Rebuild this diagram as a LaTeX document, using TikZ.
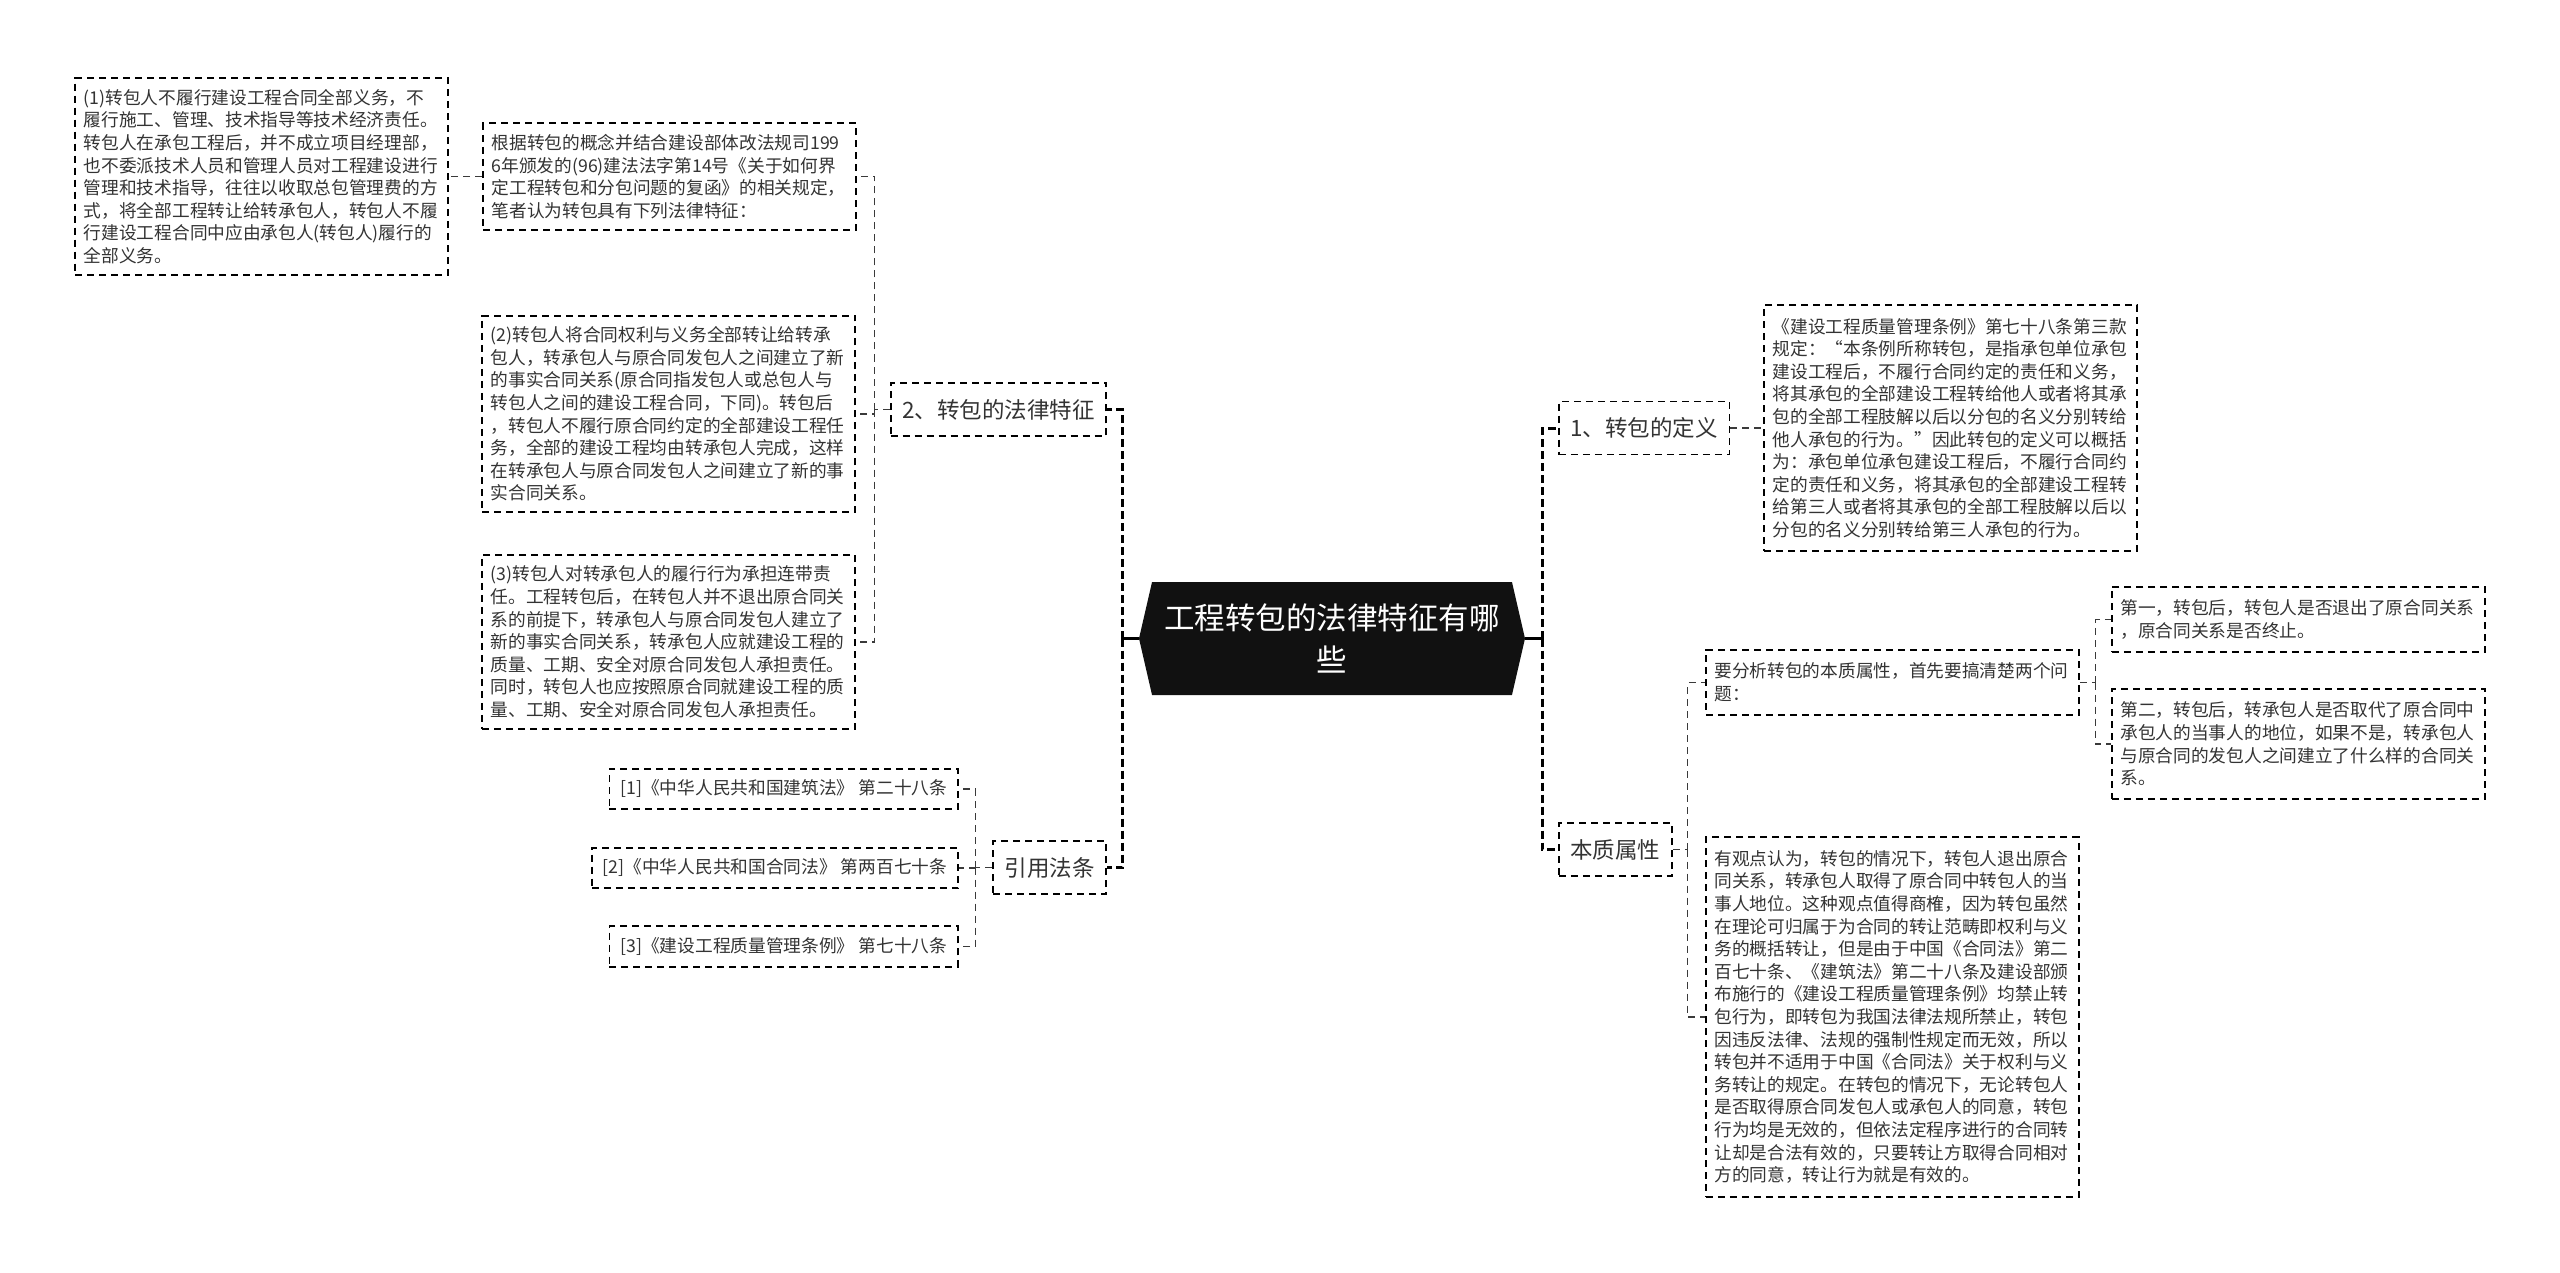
\documentclass[tikz,border=0pt]{standalone}
\usepackage{fontspec}
\usepackage{xcolor}
\usetikzlibrary{positioning, shapes.symbols}
\newfontfamily\cjk{Noto Sans CJK SC}
\definecolor{inkgray}{HTML}{333333}
\definecolor{rootfill}{HTML}{111111}
\definecolor{linkgray}{HTML}{3a3a3a}

\begin{document}
\begin{tikzpicture}[
  x=0.5pt, y=-0.5pt,
  rootbox/.style={shape=signal, signal to=west and east, signal pointer angle=154,
             fill=rootfill, text=white, minimum width=193pt, minimum height=56.5pt,
             inner xsep=2pt, align=center,
             font=\cjk\fontsize{15.25pt}{21pt}\selectfont},
  topic/.style={rectangle, draw=black, line width=0.9pt, dash pattern=on 3.5pt off 2.5pt,
             text=inkgray, minimum height=26.5pt, inner xsep=5.75pt,
             font=\cjk\fontsize{11.25pt}{13pt}\selectfont},
  leafl/.style={rectangle, draw=black, line width=0.9pt, dash pattern=on 3.5pt off 2.5pt,
             text=inkgray, text width=178pt, align=left, inner xsep=4.25pt, inner ysep=5.5pt,
             font=\cjk\fontsize{8.85pt}{11.3pt}\selectfont},
  leafr/.style={leafl, inner ysep=6.5pt},
  cite/.style={rectangle, draw=black, line width=0.9pt, dash pattern=on 3.5pt off 2.5pt,
             text=inkgray, inner xsep=5.5pt, inner ysep=5.6pt,
             font=\cjk\fontsize{8.85pt}{10.5pt}\selectfont},
  stub/.style={draw=black, line width=1.5pt},
  trunk/.style={draw=black, line width=1.5pt, dash pattern=on 4pt off 2pt},
  link/.style={draw=linkgray, line width=0.65pt, dash pattern=on 3.5pt off 2.5pt}
]
\useasboundingbox (0,0) rectangle (2560,1273);

% Centre
\node[rootbox] (root) at (1332,638.5) {工程转包的法律特征有哪\\些};

% Main branches
\node[topic, anchor=east] (feat) at (1107,409.5) {2、转包的法律特征};
\node[topic, anchor=east] (law)  at (1107,867.5) {引用法条};
\node[topic, anchor=west] (defn) at (1558,428)   {1、转包的定义};
\node[topic, anchor=west] (ess)  at (1558,849.5) {本质属性};

% Legal features
\node[leafl, anchor=east] (intro) at (857,176.5) {根据转包的概念并结合建设部体改法规司199\\6年颁发的(96)建法法字第14号《关于如何界\\定工程转包和分包问题的复函》的相关规定，\\笔者认为转包具有下列法律特征：};
\node[leafl, left=16.5pt of intro] (feat1) {(1)转包人不履行建设工程合同全部义务，不\\履行施工、管理、技术指导等技术经济责任。\\转包人在承包工程后，并不成立项目经理部，\\也不委派技术人员和管理人员对工程建设进行\\管理和技术指导，往往以收取总包管理费的方\\式，将全部工程转让给转承包人，转包人不履\\行建设工程合同中应由承包人(转包人)履行的\\全部义务。};
\node[leafl, anchor=east] (feat2) at (856,414) {(2)转包人将合同权利与义务全部转让给转承\\包人，转承包人与原合同发包人之间建立了新\\的事实合同关系(原合同指发包人或总包人与\\转包人之间的建设工程合同，下同)。转包后\\，转包人不履行原合同约定的全部建设工程任\\务，全部的建设工程均由转承包人完成，这样\\在转承包人与原合同发包人之间建立了新的事\\实合同关系。};
\node[leafl, anchor=east] (feat3) at (856,642) {(3)转包人对转承包人的履行行为承担连带责\\任。工程转包后，在转包人并不退出原合同关\\系的前提下，转承包人与原合同发包人建立了\\新的事实合同关系，转承包人应就建设工程的\\质量、工期、安全对原合同发包人承担责任。\\同时，转包人也应按照原合同就建设工程的质\\量、工期、安全对原合同发包人承担责任。};

% Citations
\node[cite, anchor=east] (cite1) at (959,789)   {[1]《中华人民共和国建筑法》 第二十八条};
\node[cite, anchor=east] (cite2) at (959,868)   {[2]《中华人民共和国合同法》 第两百七十条};
\node[cite, anchor=east] (cite3) at (959,946.5) {[3]《建设工程质量管理条例》 第七十八条};

% Definition
\node[leafr, right=16.5pt of defn] (defbox) {《建设工程质量管理条例》第七十八条第三款\\规定：“本条例所称转包，是指承包单位承包\\建设工程后，不履行合同约定的责任和义务，\\将其承包的全部建设工程转给他人或者将其承\\包的全部工程肢解以后以分包的名义分别转给\\他人承包的行为。”因此转包的定义可以概括\\为：承包单位承包建设工程后，不履行合同约\\定的责任和义务，将其承包的全部建设工程转\\给第三人或者将其承包的全部工程肢解以后以\\分包的名义分别转给第三人承包的行为。};

% Essence
\node[leafr, anchor=west] (ask) at (1705,682.5) {要分析转包的本质属性，首先要搞清楚两个问\\题：};
\node[leafr, anchor=west] (q1)  at (2111,619.5) {第一，转包后，转包人是否退出了原合同关系\\，原合同关系是否终止。};
\node[leafr, anchor=west] (q2)  at (2111,744)   {第二，转包后，转承包人是否取代了原合同中\\承包人的当事人的地位，如果不是，转承包人\\与原合同的发包人之间建立了什么样的合同关\\系。};
\node[leafr, anchor=west] (view) at (1705,1017) {有观点认为，转包的情况下，转包人退出原合\\同关系，转承包人取得了原合同中转包人的当\\事人地位。这种观点值得商榷，因为转包虽然\\在理论可归属于为合同的转让范畴即权利与义\\务的概括转让，但是由于中国《合同法》第二\\百七十条、《建筑法》第二十八条及建设部颁\\布施行的《建设工程质量管理条例》均禁止转\\包行为，即转包为我国法律法规所禁止，转包\\因违反法律、法规的强制性规定而无效，所以\\转包并不适用于中国《合同法》关于权利与义\\务转让的规定。在转包的情况下，无论转包人\\是否取得原合同发包人或承包人的同意，转包\\行为均是无效的，但依法定程序进行的合同转\\让却是合法有效的，只要转让方取得合同相对\\方的同意，转让行为就是有效的。};

% Junctions
\coordinate (lt) at ([xshift=-8pt]root.west);
\coordinate (rt) at ([xshift=8.5pt]root.east);
\coordinate (fj) at ([xshift=-7.5pt]feat.west);
\coordinate (lj) at ([xshift=-8.5pt]law.west);
\coordinate (ej) at ([xshift=7.5pt]ess.east);
\coordinate (aj) at ([xshift=8pt]ask.east);

% Connectors
\draw[stub] (root.west)--(lt); \draw[stub] (root.east)--(rt);
\draw[trunk] (lt) |- (feat.east); \draw[trunk] (lt) |- (law.east);
\draw[trunk] (rt) |- (defn.west); \draw[trunk] (rt) |- (ess.west);
\draw[link] (feat.west)--(fj);
\draw[link] (fj) |- (intro.east); \draw[link] (fj) |- (feat2.east);
\draw[link] (fj) |- (feat3.east);
\draw[link] (intro.west)--(feat1.east);
\draw[link] (law.west)--(lj);
\draw[link] (lj) |- (cite1.east); \draw[link] (lj) |- (cite2.east);
\draw[link] (lj) |- (cite3.east);
\draw[link] (defn.east)--(defbox.west);
\draw[link] (ess.east)--(ej);
\draw[link] (ej) |- (ask.west); \draw[link] (ej) |- (view.west);
\draw[link] (ask.east)--(aj);
\draw[link] (aj) |- (q1.west); \draw[link] (aj) |- (q2.west);
\end{tikzpicture}
\end{document}
